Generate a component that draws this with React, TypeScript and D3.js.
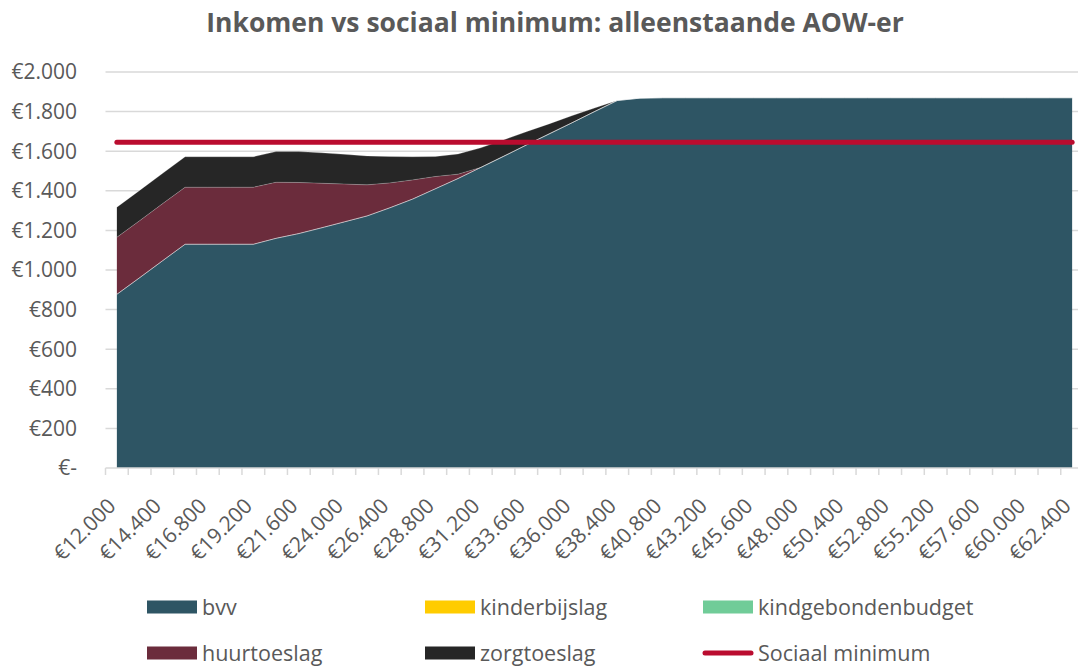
import React from "react";
import * as d3 from "d3";

const categories: number[] = [
  12000, 13200, 14400, 15600, 16800, 18000, 19200, 20400, 21600, 22800,
  24000, 25200, 26400, 27600, 28800, 30000, 31200, 32400, 33600, 34800,
  36000, 37200, 38400, 39600, 40800, 42000, 43200, 44400, 45600, 46800,
  48000, 49200, 50400, 51600, 52800, 54000, 55200, 56400, 57600, 58800,
  60000, 61200, 62400,
];

const bvv: number[] = [
  877, 961, 1046, 1130, 1130, 1130, 1130, 1160, 1184, 1213,
  1243, 1273, 1314, 1358, 1410, 1462, 1518, 1574, 1631, 1687,
  1743, 1800, 1856, 1868, 1870, 1870, 1870, 1870, 1870, 1870,
  1870, 1870, 1870, 1870, 1870, 1870, 1870, 1870, 1870, 1870,
  1870, 1870, 1870,
];

const kinderbijslag: number[] = categories.map(() => 0);
const kindgebondenbudget: number[] = categories.map(() => 0);

const huurtoeslag: number[] = [
  288, 288, 288, 288, 288, 288, 288, 283, 258, 225,
  191, 157, 126, 97, 62, 22, 0, 0, 0, 0,
  0, 0, 0, 0, 0, 0, 0, 0, 0, 0,
  0, 0, 0, 0, 0, 0, 0, 0, 0, 0,
  0, 0, 0,
];

const zorgtoeslag: number[] = [
  152, 153, 153, 154, 154, 154, 154, 155, 156, 154,
  150, 146, 133, 117, 101, 102, 99, 83, 67, 51,
  36, 18, 0, 0, 0, 0, 0, 0, 0, 0,
  0, 0, 0, 0, 0, 0, 0, 0, 0, 0,
  0, 0, 0,
];

const sociaalMinimum = 1645;

const yTicks: number[] = [0, 200, 400, 600, 800, 1000, 1200, 1400, 1600, 1800, 2000];

const seriesNames = ["bvv", "kinderbijslag", "kindgebondenbudget", "huurtoeslag", "zorgtoeslag"];
const seriesColors: Record<string, string> = {
  bvv: "#2E5564",
  kinderbijslag: "#FFCC00",
  kindgebondenbudget: "#70CC98",
  huurtoeslag: "#6B2C3C",
  zorgtoeslag: "#262626",
};
const lineColor = "#BA0C2F";

const title = "Inkomen vs sociaal minimum: alleenstaande AOW-er";

const fmt = (v: number) => {
  if (v === 0) return "€-";
  const s = Math.round(v).toString().replace(/\B(?=(\d{3})+(?!\d))/g, ".");
  return "€" + s;
};

export default function App() {
  const W = 1078;
  const H = 666;
  const left = 105.5;
  const plotRight = 1078;
  const top = 72;
  const bottom = 468;

  const rows = categories.map((c, i) => ({
    cat: String(c),
    bvv: bvv[i],
    kinderbijslag: kinderbijslag[i],
    kindgebondenbudget: kindgebondenbudget[i],
    huurtoeslag: huurtoeslag[i],
    zorgtoeslag: zorgtoeslag[i],
  }));

  const x = d3
    .scaleBand<string>()
    .domain(categories.map(String))
    .range([left, 1083.5])
    .paddingInner(0)
    .paddingOuter(0);
  const cx = (c: string) => (x(c) as number) + x.bandwidth() / 2;

  const y = d3.scaleLinear().domain([0, 2000]).range([bottom, top]);

  const stack = d3.stack<any>().keys(seriesNames);
  const stacked = stack(rows);

  const area = d3
    .area<any>()
    .x((d) => cx(d.data.cat))
    .y0((d) => y(d[0]))
    .y1((d) => y(d[1]));
  const topLine = d3
    .line<any>()
    .x((d) => cx(d.data.cat))
    .y((d) => y(d[1]));

  const smLine = d3
    .line<string>()
    .x((c) => cx(c))
    .y(() => y(sociaalMinimum));

  const tickPositions = categories
    .map((c) => x(String(c)) as number)
    .filter((p) => p <= plotRight);

  const textColor = "#595959";
  const font = "'Open Sans', 'Noto Sans', sans-serif";

  const legendItems = [
    { name: "bvv", type: "rect", col: 0, row: 0 },
    { name: "kinderbijslag", type: "rect", col: 1, row: 0 },
    { name: "kindgebondenbudget", type: "rect", col: 2, row: 0 },
    { name: "huurtoeslag", type: "rect", col: 0, row: 1 },
    { name: "zorgtoeslag", type: "rect", col: 1, row: 1 },
    { name: "Sociaal minimum", type: "line", col: 2, row: 1 },
  ];
  const legendX = [147, 425, 703];
  const legendY = [607, 653];

  return (
    <svg
      width={W}
      height={H}
      style={{ position: "absolute", left: 0, top: 0, background: "#fff" }}
      fontFamily={font}
    >
      <rect x={0} y={0} width={W} height={H} fill="#fff" />
      <text
        x={555}
        y={32}
        textAnchor="middle"
        fontSize={26.5}
        fontWeight={700}
        fill={textColor}
      >
        {title}
      </text>

      {yTicks.map((t) => (
        <g key={t}>
          {t > 0 && (
            <line x1={left} x2={plotRight} y1={y(t)} y2={y(t)} stroke="#d9d9d9" strokeWidth={1.5} />
          )}
          <text
            x={77}
            y={y(t)}
            dy="0.35em"
            textAnchor="end"
            fontSize={21}
            fill={textColor}
          >
            {fmt(t)}
          </text>
        </g>
      ))}

      {stacked.map((s) => (
        <path key={s.key} d={area(s) || ""} fill={seriesColors[s.key]} />
      ))}
      {stacked.map((s) => (
        <path
          key={s.key + "-edge"}
          d={topLine(s) || ""}
          fill="none"
          stroke="#ffffff"
          strokeOpacity={0.3}
          strokeWidth={0.75}
        />
      ))}

      <line x1={left} x2={plotRight} y1={bottom} y2={bottom} stroke="#d9d9d9" strokeWidth={1.5} />
      {tickPositions.map((p, i) => (
        <line key={i} x1={p} x2={p} y1={bottom} y2={bottom + 7} stroke="#d9d9d9" strokeWidth={1.5} />
      ))}

      <path
        d={smLine(categories.map(String)) || ""}
        fill="none"
        stroke={lineColor}
        strokeWidth={5}
        strokeLinecap="round"
      />

      {categories.map((c, i) =>
        i % 2 === 0 ? (
          <text
            key={c}
            transform={`translate(${cx(String(c)) - 5},${bottom + 34}) rotate(-45)`}
            textAnchor="end"
            fontSize={21}
            dy="0.35em"
            fill={textColor}
          >
            {fmt(c)}
          </text>
        ) : null
      )}

      {legendItems.map((it) => {
        const lx = legendX[it.col];
        const ly = legendY[it.row];
        return (
          <g key={it.name}>
            {it.type === "rect" ? (
              <rect x={lx} y={ly - 6.5} width={50} height={13} fill={seriesColors[it.name]} />
            ) : (
              <line
                x1={lx + 2}
                x2={lx + 48}
                y1={ly}
                y2={ly}
                stroke={lineColor}
                strokeWidth={5}
                strokeLinecap="round"
              />
            )}
            <text x={lx + 55} y={ly} dy="0.35em" fontSize={21.5} fill={textColor}>
              {it.name}
            </text>
          </g>
        );
      })}
    </svg>
  );
}
